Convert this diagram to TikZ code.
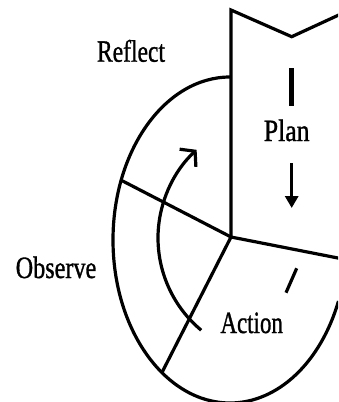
\documentclass[tikz,border=0pt]{standalone}
\usepackage{fontspec}
\setmainfont{Liberation Serif}[FakeBold=1.2]
\usetikzlibrary{arrows.meta}
\begin{document}
\begin{tikzpicture}[x=1pt,y=-1pt,
  ln/.style={line width=3.2pt, line join=miter},
  lbl/.style={inner sep=0pt, anchor=base, font=\fontsize{31}{31}\selectfont}]
\useasboundingbox (0,0) rectangle (338,402);
\clip (0,0) rectangle (338,402);
% key points
\coordinate (C) at (231,237);
\coordinate (E) at (230,240);
\coordinate (T) at (231,10);
\coordinate (Z1) at (291.7,36.7);
\coordinate (Z2) at (342,13.5);
\coordinate (L) at (121.7,180.5);
\coordinate (D) at (161.7,373);
\coordinate (R) at (342,258.8);
\coordinate (IC) at (278,238);
\coordinate (dA) at (296.7,268.3);
\coordinate (dB) at (286,292.7);
\coordinate (pA) at (291.7,68);
\coordinate (pB) at (291.7,106);
\coordinate (aA) at (291.7,163);
\coordinate (aB) at (291.7,208);
% plan column
\draw[ln] (Z2) -- (Z1) -- (T) -- (C);
% outer ellipse
\draw[ln] (E) ++(270:117 and 163) arc[start angle=270, end angle=22, x radius=117, y radius=163];
% spokes
\draw[ln] (C) -- (L);
\draw[ln] (C) -- (D);
\draw[ln] (C) -- (R);
% inner arrow arc
\draw[ln, -{Straight Barb[length=10pt,width=24pt]}] (IC) ++(129.8:120) arc[start angle=129.8, end angle=227.3, radius=120];
% short stroke
\draw[ln] (dA) -- (dB);
% plan marks
\draw[line width=5pt] (pA) -- (pB);
\draw[line width=3pt, -{Triangle[length=12pt,width=13pt]}] (aA) -- (aB);
% labels
\node[lbl] (reflect) at (131,61.7) {\scalebox{0.76}[1]{Reflect}};
\node[lbl] (observe) at (56,278) {\scalebox{0.78}[1]{Observe}};
\node[lbl] (plan) at (286.7,141) {\scalebox{0.83}[1]{Plan}};
\node[lbl] (action) at (251.7,333) {\scalebox{0.74}[1]{Action}};
\end{tikzpicture}
\end{document}
